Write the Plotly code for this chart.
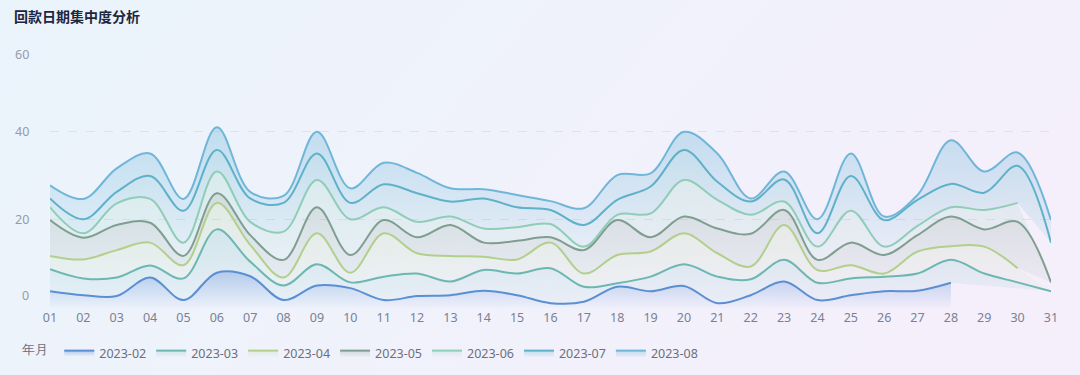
import base64
import numpy as np
import plotly.graph_objects as go

# ---------------- data ----------------
days = [f"{d:02d}" for d in range(1, 32)]
months = ["2023-02", "2023-03", "2023-04", "2023-05", "2023-06", "2023-07", "2023-08"]

feb = [3.8, 2.9, 2.7, 6.9, 1.8, 8.0, 7.2, 1.8, 5.1, 4.5, 1.8, 2.7, 2.9, 3.9, 2.9, 1.1,
       1.4, 4.8, 3.8, 5.0, 1.1, 2.9, 6.0, 1.8, 2.9, 3.8, 3.9, 5.7]
mar = [5.0, 3.8, 4.2, 2.7, 4.9, 9.8, 3.3, 3.3, 4.8, 1.3, 5.3, 5.1, 3.1, 4.7, 4.9, 7.9,
       3.4, 0.8, 3.3, 4.9, 6.0, 3.6, 4.9, 3.9, 3.8, 3.3, 3.9, 5.2, 7.8, 5.8, 3.8]
apr = [3.0, 4.3, 6.2, 5.2, 3.0, 6.0, 3.8, 1.8, 7.0, 2.2, 9.8, 4.6, 5.8, 3.0, 3.2, 5.8,
       3.0, 6.4, 5.7, 7.0, 5.3, 2.9, 7.9, 2.9, 3.0, 0.7, 5.0, 3.1, 6.1, 3.2]
may = [8.1, 4.9, 5.7, 4.5, 2.1, 2.2, 2.2, 4.0, 5.9, 4.0, 3.0, 3.6, 7.0, 3.2, 4.2, 1.2,
       5.3, 7.9, 3.2, 3.8, 5.6, 7.4, 3.4, 2.3, 5.1, 4.2, 3.7, 6.7, 3.9, 10.5, 2.0]
jun = [2.9, 1.0, 4.9, 5.4, 3.0, 4.9, 3.0, 6.4, 6.2, 8.1, 2.9, 3.5, 1.9, 3.2, 3.1, 3.0,
       0.8, 1.2, 5.4, 8.3, 6.5, 4.3, 1.9, 3.0, 7.2, 1.9, 2.1, 2.1, 4.4, 4.3]
jul = [2.0, 3.2, 2.6, 5.2, 7.2, 4.9, 5.3, 6.5, 6.0, 3.7, 5.2, 6.5, 3.4, 6.8, 4.5, 3.2,
       4.9, 3.4, 6.1, 6.8, 4.1, 3.0, 5.0, 3.0, 7.9, 6.0, 5.9, 5.3, 3.9, 8.4, 9.0]
aug = [3.0, 4.6, 5.3, 5.1, 2.7, 5.1, 1.5, 1.6, 4.9, 3.3, 4.9, 4.6, 3.0, 2.1, 2.8, 2.0,
       3.8, 5.6, 3.0, 4.1, 6.4, 0.7, 1.8, 3.2, 5.1, 0.8, 1.1, 9.9, 4.8, 3.0, 5.1]

series = [feb, mar, apr, may, jun, jul, aug]

y_ticks = [0, 20, 40, 60]

# ---------------- style ----------------
line_colors = ["#5b8fd3", "#6cb7b2", "#b2cf8c", "#7f9e8f", "#8fcdb9", "#5fb1c9", "#6fb6d8"]
top_alpha = [0.40, 0.22, 0.22, 0.26, 0.22, 0.30, 0.36]
bot_alpha = [0.02, 0.06, 0.06, 0.08, 0.06, 0.08, 0.10]
ytick_shift = [13, 0, 0, -11]

W, H = 1080, 375
ML, MR, MT, MB = 50, 29, 43, 67
PW, PH = W - ML - MR, H - MT - MB


def rgba(hexc, a):
    h = hexc.lstrip("#")
    r, g, b = int(h[0:2], 16), int(h[2:4], 16), int(h[4:6], 16)
    return f"rgba({r},{g},{b},{a})"


fig = go.Figure()

base = np.zeros(len(days))
for i, (name, vals) in enumerate(zip(months, series)):
    n = len(vals)
    v = np.array(vals, dtype=float)
    stacked = base[:n] + v
    base[:n] = base[:n] + v
    c = line_colors[i]
    fig.add_trace(go.Scatter(
        x=days[:n],
        y=stacked,
        name=name,
        mode="lines",
        line=dict(color=c, width=2, shape="spline", smoothing=1.0),
        fill="tozeroy" if i == 0 else "tonexty",
        fillgradient=dict(
            type="vertical",
            colorscale=[[0, rgba(c, bot_alpha[i])], [1, rgba(c, top_alpha[i])]],
        ),
        hoverinfo="x+y+name",
    ))

# background gradient
svg = (
    f'<svg xmlns="http://www.w3.org/2000/svg" width="{W}" height="{H}">'
    '<defs><linearGradient id="g" x1="0" y1="0" x2="1" y2="0.3">'
    '<stop offset="0" stop-color="#eaf4fb"/>'
    '<stop offset="0.55" stop-color="#f0f2fb"/>'
    '<stop offset="1" stop-color="#f4effb"/>'
    '</linearGradient></defs>'
    f'<rect width="{W}" height="{H}" fill="url(#g)"/></svg>'
)
src = "data:image/svg+xml;base64," + base64.b64encode(svg.encode()).decode()

annotations = []
for v, s in zip(y_ticks, ytick_shift):
    annotations.append(dict(
        x=0, xref="paper", xanchor="right", xshift=-19,
        y=v, yref="y", yanchor="middle", yshift=s,
        text=str(v), showarrow=False,
        font=dict(size=12.5, color="#959bab", family="Noto Sans, sans-serif"),
    ))

fig.update_layout(
    width=W, height=H,
    margin=dict(l=ML, r=MR, t=MT, b=MB),
    paper_bgcolor="#eff3fb",
    plot_bgcolor="rgba(0,0,0,0)",
    images=[dict(
        source=src, xref="paper", yref="paper",
        x=-ML / PW, y=1 + MT / PH, sizex=W / PW, sizey=H / PH,
        xanchor="left", yanchor="top", sizing="stretch", layer="below",
    )],
    title=dict(
        text="<b>回款日期集中度分析</b>",
        x=14 / W, xref="container", xanchor="left",
        y=1 - 17 / H, yref="container", yanchor="middle",
        font=dict(size=14, color="#1e2740", family="Noto Sans CJK SC, sans-serif"),
    ),
    xaxis=dict(
        type="category",
        categoryorder="array", categoryarray=days,
        range=[0, len(days) - 1],
        showgrid=False, zeroline=False, showline=False,
        ticks="", tickfont=dict(size=12.5, color="#7a8194", family="Noto Sans, sans-serif"),
        fixedrange=True,
    ),
    yaxis=dict(
        range=[y_ticks[0], y_ticks[-1]],
        tickvals=y_ticks,
        showticklabels=False,
        showgrid=True, gridcolor="#dde2eb", griddash="dash", gridwidth=1,
        zeroline=False, showline=False, ticks="",
        fixedrange=True,
    ),
    legend=dict(
        orientation="h",
        traceorder="normal",
        xref="container", x=20 / W, xanchor="left",
        yref="container", y=1 - 353 / H, yanchor="middle",
        title=dict(text="年月 ", font=dict(size=12.5, color="#6b7080")),
        font=dict(size=12.5, color="#6b7080", family="Noto Sans, sans-serif"),
        itemwidth=30,
        bgcolor="rgba(0,0,0,0)",
    ),
    annotations=annotations,
    showlegend=True,
)

fig.write_html(
    "out.html",
    config={"displayModeBar": False},
    post_script="document.body.style.margin='0';document.body.style.overflow='hidden';",
)
